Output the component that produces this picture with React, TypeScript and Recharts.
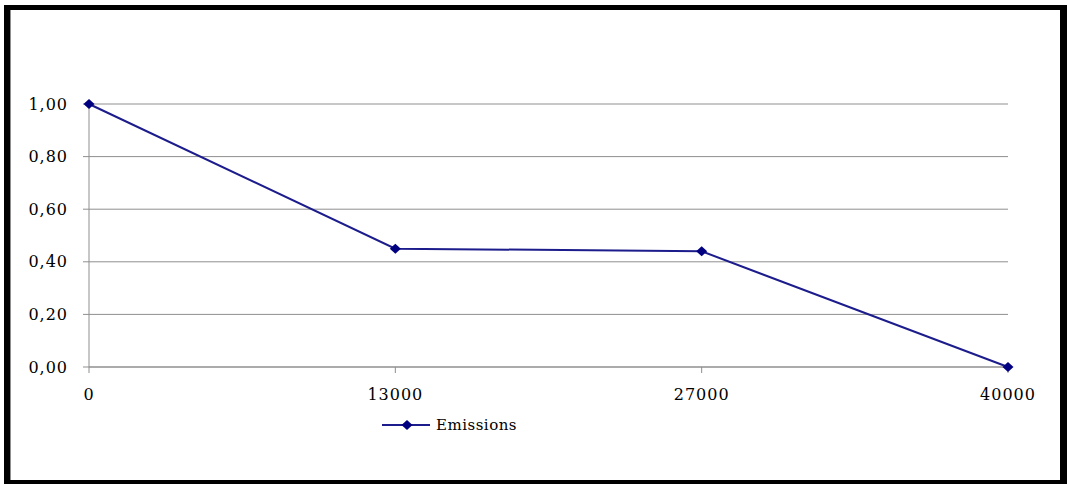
import { LineChart, Line, XAxis, YAxis, CartesianGrid } from 'recharts';

const distances = ['0', '13000', '27000', '40000'];
const emissions = [1.0, 0.45, 0.44, 0.0];
const yTicks = [0, 0.2, 0.4, 0.6, 0.8, 1.0];

const data = distances.map((d, i) => ({ distance: d, emissions: emissions[i] }));

const NAVY = '#1c1c8c';
const GRID = '#8f8f8f';
const FONT = '"DejaVu Serif", serif';

const fmt = (v: number) => v.toFixed(2).replace('.', ',');

function Diamond(props: any) {
  const { cx, cy } = props;
  if (cx == null || cy == null) return null;
  return (
    <polygon
      points={`${cx - 5.5},${cy} ${cx},${cy - 5} ${cx + 5.5},${cy} ${cx},${cy + 5}`}
      fill="#000080"
    />
  );
}

export default function App() {
  return (
    <div style={{ position: 'absolute', left: 0, top: 0, width: 1067, height: 484, background: '#fff', overflow: 'hidden' }}>
      <div
        style={{
          position: 'absolute',
          left: 4,
          top: 5,
          width: 1063,
          height: 479,
          boxSizing: 'border-box',
          borderTop: '5px solid #000',
          borderLeft: '6px solid #000',
          borderRight: '7px solid #000',
          borderBottom: '4px solid #000',
        }}
      >
        <div style={{ position: 'absolute', left: 0, top: 0, bottom: 0, width: 1, background: GRID }} />
      </div>
      <div style={{ position: 'absolute', left: 0, top: 0 }}>
        <LineChart
          width={1067}
          height={484}
          data={data}
          margin={{ top: 104, right: 59, bottom: 87, left: 0 }}
        >
          <CartesianGrid vertical={false} stroke={GRID} />
          <XAxis
            dataKey="distance"
            height={30}
            stroke={GRID}
            tickSize={6}
            tickMargin={16}
            tick={{ fill: '#000', fontSize: 16, fontFamily: FONT, letterSpacing: 1 }}
          />
          <YAxis
            width={89}
            domain={[0, 1]}
            ticks={yTicks}
            tickFormatter={fmt}
            stroke={GRID}
            tickSize={6}
            tickMargin={15}
            tick={{ fill: '#000', fontSize: 16, fontFamily: FONT, letterSpacing: 1 }}
          />
          <Line
            dataKey="emissions"
            stroke={NAVY}
            strokeWidth={2}
            dot={<Diamond />}
            activeDot={false}
            isAnimationActive={false}
          />
        </LineChart>
      </div>
      <div
        style={{
          position: 'absolute',
          left: 382,
          top: 414,
          display: 'flex',
          alignItems: 'center',
          fontFamily: FONT,
          fontSize: 15,
          letterSpacing: 0.5,
          fontWeight: 500,
          color: '#000',
        }}
      >
        <svg width={50} height={22}>
          <line x1={0} y1={11} x2={48} y2={11} stroke={NAVY} strokeWidth={2} />
          <polygon points="19.5,11 25,6 30.5,11 25,16" fill="#000080" />
        </svg>
        <span style={{ marginLeft: 4 }}>Emissions</span>
      </div>
    </div>
  );
}
